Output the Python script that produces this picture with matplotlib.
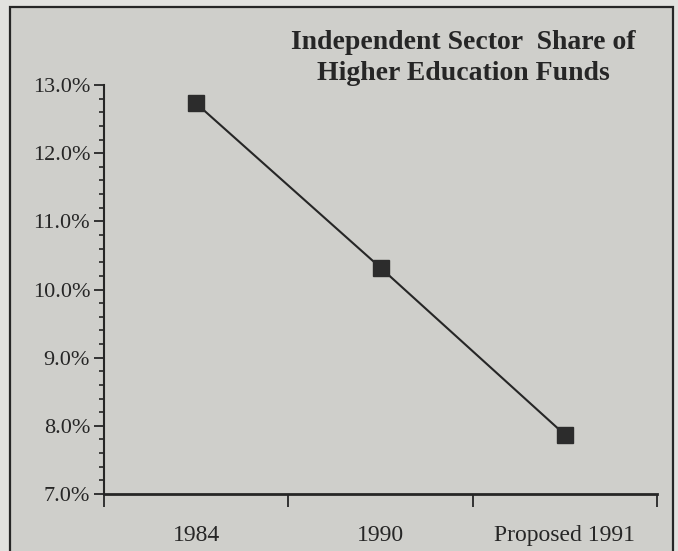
import matplotlib.pyplot as plt
from matplotlib.patches import Rectangle
from matplotlib.ticker import FixedLocator, MultipleLocator

# data
categories = ['1984', '1990', 'Proposed 1991']
share_pct = [12.73, 10.32, 7.87]
y_ticks = [7.0, 8.0, 9.0, 10.0, 11.0, 12.0, 13.0]

BG = '#cfcfcb'
INK = '#262626'

fig = plt.figure(figsize=(6.78, 5.51), dpi=100, facecolor='#e2e2df')

# outer frame of the panel
fig.patches.append(Rectangle((10 / 678, -0.05), 663 / 678, 1 - 7 / 551 + 0.05,
                             transform=fig.transFigure, facecolor=BG,
                             edgecolor=INK, linewidth=1.6, zorder=-5))

ax = fig.add_axes([104 / 678, 1 - 494 / 551, (657 - 104) / 678, (494 - 85) / 551])
ax.set_facecolor('none')
ax.set_zorder(5)

x = list(range(len(categories)))
ax.plot(x, share_pct, color=INK, linewidth=1.5, marker='s', markersize=11,
        markerfacecolor='#2c2c2c', markeredgecolor='#2c2c2c', clip_on=False)

ax.set_xlim(-0.5, len(categories) - 0.5)
ax.set_ylim(7.0, 13.0)

# x: tick marks between categories, labels at category centres
ax.xaxis.set_major_locator(FixedLocator([i - 0.5 for i in range(len(categories) + 1)]))
ax.xaxis.set_minor_locator(FixedLocator(x))
ax.set_xticklabels([''] * (len(categories) + 1))
ax.set_xticklabels(categories, minor=True)
ax.tick_params(axis='x', which='major', direction='out', length=9, width=1.3, color=INK)
ax.tick_params(axis='x', which='minor', length=0, pad=22)

ax.set_yticks(y_ticks)
ax.set_yticklabels([f'{v:.1f}%' for v in y_ticks])
ax.yaxis.set_minor_locator(MultipleLocator(0.2))
ax.tick_params(axis='y', which='major', direction='out', length=7, width=1.3, color=INK, pad=3)
ax.tick_params(axis='y', which='minor', direction='out', length=3.5, width=1.2, color=INK)

for lbl in ax.get_yticklabels():
    lbl.set_fontfamily('Liberation Serif')
    lbl.set_fontsize(16)
    lbl.set_color(INK)
for lbl in ax.get_xticklabels(minor=True):
    lbl.set_fontfamily('Liberation Serif')
    lbl.set_fontsize(17)
    lbl.set_color(INK)

for side in ['top', 'right']:
    ax.spines[side].set_visible(False)
ax.spines['left'].set_color(INK)
ax.spines['left'].set_linewidth(1.5)
ax.spines['bottom'].set_color(INK)
ax.spines['bottom'].set_linewidth(2.0)

fig.text(463 / 678, 1 - 58 / 551, 'Independent Sector  Share of\nHigher Education Funds',
         ha='center', va='center', fontsize=20, fontweight='bold',
         fontfamily='Liberation Serif', color=INK, linespacing=1.3, zorder=10)

fig.savefig('out.png', dpi=100, facecolor=fig.get_facecolor())
